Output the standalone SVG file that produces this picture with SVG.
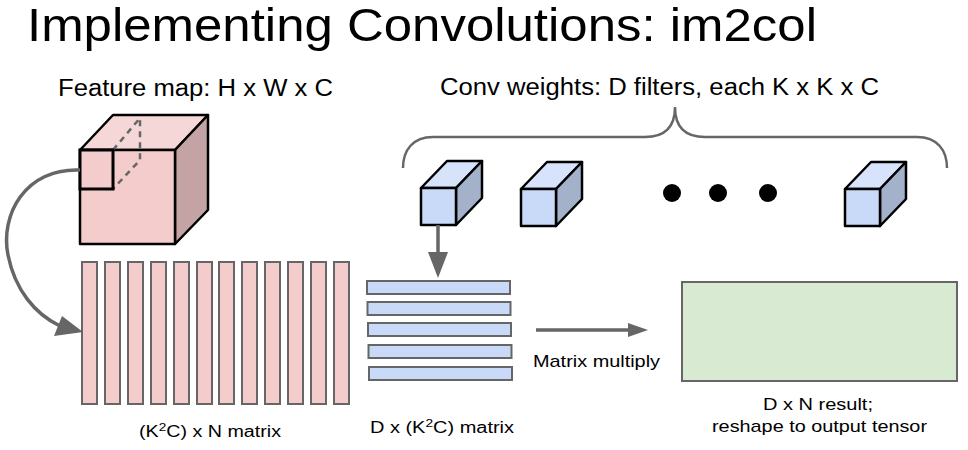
<svg xmlns="http://www.w3.org/2000/svg" width="968" height="450" viewBox="0 0 968 450">
<style>
text{font-family:"Liberation Sans",Arial,sans-serif;fill:#000}
.edge{stroke:#000;stroke-width:2.5;stroke-linejoin:round}
.pf{fill:#f4cccc}.pt{fill:#f6d7d7}.ps{fill:#c4a3a4}
.bf{fill:#c9daf8}.bt{fill:#d6e3fa}.bs{fill:#a3b2ca}
.col{fill:#f4cccc;stroke:#666;stroke-width:2}
.row{fill:#c9daf8;stroke:#666;stroke-width:2}
.conn{fill:none;stroke:#666;stroke-width:3.5}
.head{fill:#666}
</style>
<defs>
<g id="bcube">
<polygon class="bt edge" points="0,0 26,-27 61,-27 35,0"/>
<polygon class="bs edge" points="35,0 61,-27 61,10 35,37"/>
<rect class="bf edge" x="0" y="0" width="35" height="37"/>
</g>
</defs>
<rect width="968" height="450" fill="#fff"/>
<text x="27" y="41" font-size="46" textLength="790" lengthAdjust="spacingAndGlyphs">Implementing Convolutions: im2col</text>
<text x="58" y="96" font-size="23" textLength="275" lengthAdjust="spacingAndGlyphs">Feature map: H x W x C</text>
<text x="440" y="95" font-size="23" textLength="439" lengthAdjust="spacingAndGlyphs">Conv weights: D filters, each K x K x C</text>

<g id="feature-map">
<polygon class="pt edge" points="80,150 113,115 208,115 175,150"/>
<polygon class="ps edge" points="175,150 208,115 208,210 175,244"/>
<rect class="pf edge" x="80" y="150" width="95" height="94"/>
<path d="M113,150 L140,118 L140,160 L113,189" fill="none" stroke="#666" stroke-width="2.5" stroke-dasharray="6,5"/>
<rect x="80" y="150" width="33" height="39" fill="#f4cccc" stroke="#000" stroke-width="3"/>
</g>

<g id="filter-1"><use href="#bcube" x="421" y="188"/></g>
<g id="filter-2"><use href="#bcube" x="521" y="189"/></g>
<g id="ellipsis">
<circle cx="672" cy="193" r="9" fill="#000"/>
<circle cx="718" cy="193" r="9" fill="#000"/>
<circle cx="768" cy="193" r="9" fill="#000"/>
</g>
<g id="filter-D"><use href="#bcube" x="845" y="189"/></g>

<g id="brace">
<path d="M403,168 C403,150 413,137 433,137 L645,137 C665,137 675,127 675,107 C675,127 685,137 705,137 L917,137 C937,137 947,150 947,168" fill="none" stroke="#666" stroke-width="2.5"/>
</g>

<g id="col-matrix">
<rect class="col" x="82" y="262" width="15" height="142"/>
<rect class="col" x="105" y="262" width="15" height="142"/>
<rect class="col" x="128" y="262" width="15" height="142"/>
<rect class="col" x="151" y="262" width="15" height="142"/>
<rect class="col" x="174" y="262" width="15" height="142"/>
<rect class="col" x="197" y="262" width="15" height="142"/>
<rect class="col" x="219" y="262" width="15" height="142"/>
<rect class="col" x="242" y="262" width="15" height="142"/>
<rect class="col" x="265" y="262" width="15" height="142"/>
<rect class="col" x="288" y="262" width="15" height="142"/>
<rect class="col" x="311" y="262" width="15" height="142"/>
<rect class="col" x="334" y="262" width="15" height="142"/>
<text x="210" y="437" font-size="16" text-anchor="middle" textLength="142" lengthAdjust="spacingAndGlyphs">(K<tspan font-size="11" dy="-6">2</tspan><tspan dy="6">C) x N matrix</tspan></text>
</g>

<g id="weight-matrix">
<rect class="row" x="367" y="281" width="143" height="13"/>
<rect class="row" x="367.5" y="302" width="143" height="13"/>
<rect class="row" x="368" y="323" width="143" height="13"/>
<rect class="row" x="368.5" y="345" width="143" height="13"/>
<rect class="row" x="369" y="367" width="143" height="13"/>
<text x="370" y="433" font-size="16" textLength="144" lengthAdjust="spacingAndGlyphs">D x (K<tspan font-size="11" dy="-6">2</tspan><tspan dy="6">C) matrix</tspan></text>
</g>

<g id="result">
<rect x="682" y="282" width="275" height="99" fill="#d9ead3" stroke="#666" stroke-width="2"/>
<text x="818" y="410" font-size="17" text-anchor="middle" textLength="110" lengthAdjust="spacingAndGlyphs">D x N result;</text>
<text x="819.5" y="432" font-size="17" text-anchor="middle" textLength="215" lengthAdjust="spacingAndGlyphs">reshape to output tensor</text>
</g>

<g id="connectors">
<path class="conn" d="M80,170 C25,168 0,215 8,255 C15,290 35,314 60,326"/>
<polygon class="head" points="54,336 62,316 83,332"/>
<path class="conn" d="M438,225 L438,254"/>
<polygon class="head" points="428,252 448,252 438,278"/>
<path class="conn" stroke-width="3" d="M536,330 L630,330"/>
<polygon class="head" points="628,323 648,330 628,337"/>
<text x="533" y="367" font-size="17" textLength="127" lengthAdjust="spacingAndGlyphs">Matrix multiply</text>
</g>
</svg>
